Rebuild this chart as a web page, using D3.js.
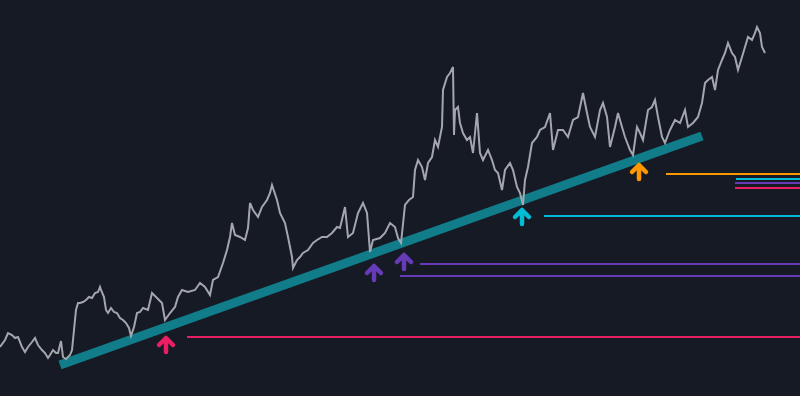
<!DOCTYPE html>
<html>
<head>
<meta charset="utf-8">
<script src="https://cdn.jsdelivr.net/npm/d3@7"></script>
<style>
  html, body { margin: 0; padding: 0; background: #161a25; }
  svg { display: block; }
</style>
</head>
<body>
<svg id="chart" width="800" height="396"></svg>
<script>
// ---- data ----
const bars = [0,5,8,12,15,18,22,25,28,32,35,38,42,45,48,50,53,56,58,61,63,66,70,72,74,76,78,80,83,86,89,92,95,98,100,101,104,106,108,111,114,117,120,123,126,129,131,134,137,140,143,148,152,157,162,165,170,175,178,182,188,195,200,205,210,213,218,223,227,230,232,235,240,245,248,250,253,258,262,267,270,272,277,280,285,288,292,293,297,300,303,308,313,317,322,327,332,337,340,345,348,353,358,363,367,370,373,380,385,390,395,398,401,405,409,413,415,418,422,425,428,432,435,438,442,443,447,450,453,454,455,458,460,463,467,470,473,477,480,483,488,492,495,498,502,505,510,513,517,520,523,525,528,532,537,540,545,550,553,558,563,568,573,578,583,587,590,595,600,603,607,610,615,618,622,625,630,633,637,640,643,648,652,655,658,662,665,668,670,675,680,685,688,693,698,702,705,708,712,715,718,722,725,728,732,735,738,742,745,748,752,755,757,760,762,765];
const prices = [49,56,63,61,58,59,49,44,49,54,58,51,46,43,38,41,46,43,43,55,39,37,41,46,66,86,93,93,94,96,99,98,103,104,109,106,99,86,83,88,84,83,78,76,73,68,60,69,83,84,88,86,103,98,93,76,83,89,99,106,104,106,113,109,101,116,119,133,146,159,173,161,159,156,168,193,186,179,189,196,203,211,196,183,173,159,139,128,136,139,143,146,153,156,159,159,163,169,168,189,159,163,183,193,183,144,156,158,163,173,169,158,153,191,196,199,226,236,229,216,233,239,256,249,269,306,319,323,329,261,286,289,273,263,256,259,243,283,243,236,246,236,226,223,206,226,233,226,209,203,191,216,229,253,259,266,269,283,246,266,266,259,276,279,303,283,269,259,286,293,279,249,269,283,269,259,246,241,269,263,256,286,289,296,279,259,253,261,266,276,273,286,269,273,279,293,313,316,319,306,326,336,343,353,343,339,326,339,349,359,356,363,369,363,349,343];

const trendBars = [60, 702];
const trendPrices = [31, 260];

const levelPrices = [59, 132, 120, 180, 222, 217, 213, 208];
const levelStarts = [187, 420, 400, 544, 666, 736, 735, 735];
const levelColors = ["#e91e63", "#673ab7", "#673ab7", "#00bcd4", "#ff9800", "#00bcd4", "#673ab7", "#e91e63"];

const arrowBars = [166, 374, 404, 522, 639];
const arrowPrices = [58, 130, 141, 186, 231];
const arrowColors = ["#e91e63", "#673ab7", "#673ab7", "#00bcd4", "#ff9800"];

// ---- scales ----
const W = 800, H = 396;
const x = d3.scaleLinear().domain([0, 800]).range([0, W]);
const y = d3.scaleLinear().domain([0, 396]).range([H, 0]);

const svg = d3.select("#chart");
svg.append("rect").attr("width", W).attr("height", H).attr("fill", "#161a25");

// levels
svg.append("g").selectAll("line").data(levelPrices).join("line")
  .attr("x1", (d, i) => x(levelStarts[i]))
  .attr("x2", x(800))
  .attr("y1", d => y(d)).attr("y2", d => y(d))
  .attr("stroke", (d, i) => levelColors[i])
  .attr("stroke-width", 2);

// trend band
svg.append("line")
  .attr("x1", x(trendBars[0])).attr("y1", y(trendPrices[0]))
  .attr("x2", x(trendBars[1])).attr("y2", y(trendPrices[1]))
  .attr("stroke", "#127d8a")
  .attr("stroke-width", 9);

// price
const pts = bars.map((b, i) => [b, prices[i]]);
svg.append("path")
  .datum(pts)
  .attr("fill", "none")
  .attr("stroke", "#a3a6ad")
  .attr("stroke-width", 2)
  .attr("stroke-linejoin", "miter")
  .attr("d", d3.line().x(d => x(d[0])).y(d => y(d[1])));

// arrows
const ag = svg.append("g").selectAll("g").data(arrowBars).join("g")
  .attr("transform", (d, i) => `translate(${x(d)},${y(arrowPrices[i])})`);
ag.append("path")
  .attr("d", "M-7,7 L0,0 L7,7 M0,0 L0,14")
  .attr("fill", "none")
  .attr("stroke", (d, i) => arrowColors[i])
  .attr("stroke-width", 4.5)
  .attr("stroke-linecap", "round")
  .attr("stroke-linejoin", "round");
</script>
</body>
</html>
